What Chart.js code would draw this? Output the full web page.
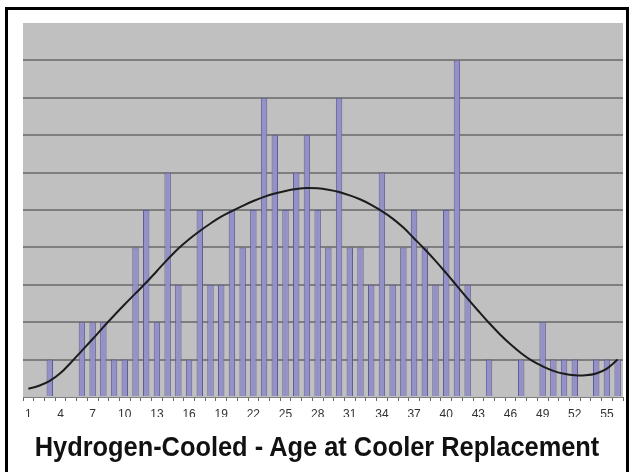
<!DOCTYPE html>
<html>
<head>
<meta charset="utf-8">
<title>Hydrogen-Cooled - Age at Cooler Replacement</title>
<script src="https://cdn.jsdelivr.net/npm/chart.js@4/dist/chart.umd.min.js"></script>
<style>
  html, body { margin: 0; padding: 0; background: #fff; }
  body { width: 634px; height: 472px; position: relative; overflow: hidden; }
  #frame {
    position: absolute; left: 5px; top: 7px;
    width: 618px; height: 480px;
    border: 3px solid #000; box-sizing: content-box;
  }
  #chart { position: absolute; left: 0; top: 0; }
  #title {
    position: absolute; left: 0; top: 434px; width: 634px;
    text-align: center; line-height: 1;
    font-family: 'Liberation Sans', Arial, sans-serif;
    font-size: 27px; font-weight: bold; color: #111;
    transform: scaleX(0.94); transform-origin: 317px 0;
    white-space: nowrap;
  }
</style>
</head>
<body>
<div id="frame"></div>
<canvas id="chart" width="634" height="472"></canvas>
<div id="title">Hydrogen-Cooled - Age at Cooler Replacement</div>
<script>
// Age (years) at cooler replacement
const ages = ['1','2','3','4','5','6','7','8','9','10','11','12','13','14','15','16','17','18','19','20',
              '21','22','23','24','25','26','27','28','29','30','31','32','33','34','35','36','37','38','39','40',
              '41','42','43','44','45','46','47','48','49','50','51','52','53','54','55','56'];

// Number of replacements per age
const replacements = [0, 0, 1, 0, 0, 2, 2, 2, 1, 1, 4, 5, 2, 6, 3, 1, 5, 3, 3, 5,
                      4, 5, 8, 7, 5, 6, 7, 5, 4, 8, 4, 4, 3, 6, 3, 4, 5, 4, 3, 5,
                      9, 3, 0, 1, 0, 0, 1, 0, 2, 1, 1, 1, 0, 1, 1, 1];

// Trend curve, value at each age
const trend = [0.22, 0.30, 0.43, 0.64, 0.93, 1.24, 1.55, 1.87, 2.18, 2.48, 2.77, 3.06, 3.37, 3.68, 3.97, 4.22, 4.44, 4.64, 4.82, 4.97,
               5.11, 5.24, 5.35, 5.44, 5.51, 5.56, 5.59, 5.58, 5.54, 5.48, 5.39, 5.28, 5.14, 4.97, 4.77, 4.53, 4.24, 3.95, 3.64, 3.31,
               2.97, 2.63, 2.30, 1.98, 1.68, 1.41, 1.17, 0.97, 0.82, 0.70, 0.62, 0.58, 0.58, 0.63, 0.76, 1.00];

// Only every third age gets a label
const shownTicks = ['1','4','7','10','13','16','19','22','25','28','31','34','37','40','43','46','49','52','55'];

// grey plot area like the old Excel chart
const plotBackground = {
    id: 'plotBackground',
    beforeDraw(chart) {
        const a = chart.chartArea;
        const ctx = chart.ctx;
        ctx.save();
        ctx.fillStyle = '#c0c0c0';
        ctx.fillRect(a.left, a.top, a.right - a.left, a.bottom - a.top);
        ctx.restore();
    }
};

new Chart(document.getElementById('chart').getContext('2d'), {
    type: 'bar',
    data: {
        labels: ages,
        datasets: [{
            type: 'line',
            data: trend,
            borderColor: '#1c1c1c',
            borderWidth: 2,
            pointRadius: 0,
            tension: 0.4,
            fill: false,
            order: 0
        }, {
            type: 'bar',
            data: replacements,
            backgroundColor: '#9491c6',
            borderColor: '#5f5c96',
            borderWidth: 1,
            borderSkipped: 'bottom',
            barPercentage: 0.6,
            categoryPercentage: 1,
            order: 1
        }]
    },
    options: {
        responsive: false,
        animation: false,
        layout: { padding: { left: 23, right: 11, top: 23, bottom: 55 } },
        plugins: {
            legend: { display: false },
            tooltip: { enabled: false }
        },
        scales: {
            x: {
                afterFit: function(scale) { scale.height = 20; },
                grid: {
                    offset: true,
                    drawOnChartArea: false,
                    drawTicks: true,
                    tickLength: 4,
                    color: '#666'
                },
                border: { display: true, color: '#808080', width: 1 },
                ticks: {
                    autoSkip: false,
                    maxRotation: 0,
                    padding: 6,
                    color: '#333',
                    font: { family: 'Liberation Sans, Arial, sans-serif', size: 12 },
                    callback: function(value, index) {
                        const lab = ages[index];
                        return shownTicks.includes(lab) ? lab : '';
                    }
                }
            },
            y: {
                min: 0,
                max: 10,
                afterFit: function(scale) { scale.width = 0; },
                ticks: { display: false, stepSize: 1 },
                border: { display: false },
                grid: {
                    drawTicks: false,
                    lineWidth: 2,
                    color: function(c) {
                        return (c.tick && (c.tick.value === 0 || c.tick.value === 10)) ? 'rgba(0,0,0,0)' : '#7e7e7e';
                    }
                }
            }
        }
    },
    plugins: [plotBackground]
});
</script>
</body>
</html>
